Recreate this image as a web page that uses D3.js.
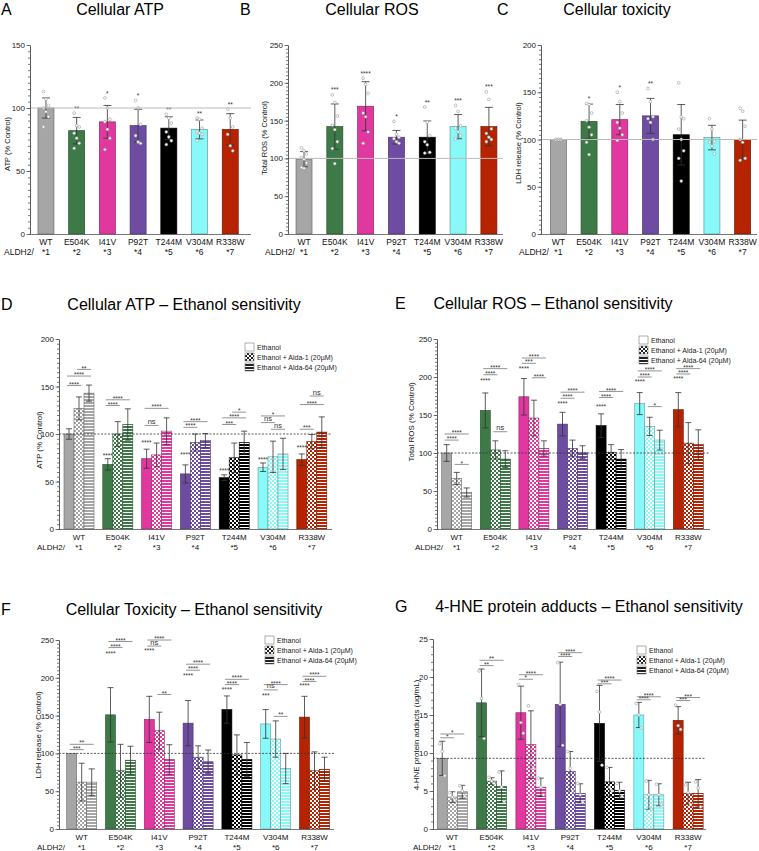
<!DOCTYPE html>
<html>
<head>
<meta charset="utf-8">
<script src="https://cdn.jsdelivr.net/npm/d3@7"></script>
<style>
  body { margin: 0; background: #fff; }
  svg { display: block; font-family: "Liberation Sans", Arial, sans-serif; }
</style>
</head>
<body>
<div id="fig"></div>
<script>
// categories
const variants = ["WT","E504K","I41V","P92T","T244M","V304M","R338W"];
const alleles  = ["*1","*2","*3","*4","*5","*6","*7"];
const colors   = ["#a6a6a6","#3d7a48","#e0389f","#6e4ca2","#000000","#88f8f8","#b62300"];
const legendLabels = ["Ethanol","Ethanol + Alda-1 (20\u00b5M)","Ethanol + Alda-64 (20\u00b5M)"];

// A - cellular ATP
const atpMean  = [100,82,89,86,84,83,83];
const atpSD    = [8,10.5,13,13,9,7.5,12.5];
const atpStars = ["","**","*","*","**","**","**"];
const atpPts   = [[113,107,102,100,97,93,85],[96,86,85,80,76,72,68],[108,100,91,89,83,76,67],
                  [106,100,87,78,73,72],[95,92,88,81,77,74,71],[92,91,84,81,80,79,74],[99,92,85,79,70,66]];
// B - cellular ROS
const rosMean  = [99,142,169,128,128,142,142];
const rosSD    = [10,30,32.5,9,21.5,16,25.5];
const rosStars = ["","***","****","*","**","***","***"];
const rosPts   = [[114,110,106,101,99,94,88,87],[184,174,156,144,138,122,113,93],[206,198,186,160,155,135,120],
                  [149,132,128,126,122,120],[168,148,130,122,118,108,107],[170,162,143,140,135,130,126],[188,178,139,133,128,125,122]];
// C - cellular toxicity
const ldhMean  = [100,119,121,125,105,102,100];
const ldhSD    = [0,18.5,16,18.5,32,13,20.5];
const ldhStars = ["","*","*","**","","",""];
const ldhPts   = [[100,100,100,100,100,100],[138,137,128,120,113,105,97,84],[150,140,128,118,112,105,99],
                  [154,140,124,122,118,100],[160,124,122,111,100,88,80,56],[122,111,98,97,93,85],[133,130,114,100,97,80,78]];

// D - ATP, ethanol sensitivity
const dEth   = [100,68,74,58,54,65,73];
const dEthSD = [5.5,6,10,9.5,3,4.5,6];
const dA1    = [127,100,78,91,75,76,92];
const dA1SD  = [12,13,12.5,9,15.5,16.5,7.5];
const dA64   = [143,110,103,93,91,79,102];
const dA64SD = [8.5,16.5,14,7.5,12,16.5,16];
const dVsWT  = ["","****","****","****","****","****","****"];
const dVsWTy = [0,79,92,80,63,74,87];
const dComp  = [[0,0,1,151,"****"],[0,0,2,161,"****"],[0,1,2,168,"**"],
                [1,0,1,130,"****"],[1,0,2,136,"****"],
                [2,0,1,109,"ns"],[2,0,2,127,"****"],
                [3,0,1,107,"****"],[3,0,2,113,"****"],
                [4,0,1,110,"***"],[4,0,2,117,"****"],[4,1,2,123,"*"],
                [5,0,1,112,"ns"],[5,0,2,119,"*"],[5,1,2,105,"ns"],
                [6,0,1,105,"***"],[6,0,2,131,"****"],[6,1,2,140,"ns"]];

// E - ROS, ethanol sensitivity
const eEth   = [100,156,174,138,136,165,157];
const eEthSD = [11,23,24,15.5,15.5,14.5,22.5];
const eA1    = [66.5,104,146,106,101,135,113];
const eA1SD  = [8,12,23.5,11,10,12,27];
const eA64   = [48,92,106,101,92,117,111];
const eA64SD = [6,11,10,8.5,12.5,13,19.5];
const eVsWT  = ["","****","****","****","****","****","****"];
const eVsWTy = [0,197,212,166,162,195,200];
const eComp  = [[0,0,1,117,"****"],[0,0,2,125,"****"],[0,1,2,85,"*"],
                [1,0,1,203,"****"],[1,0,2,211,"****"],[1,1,2,128,"ns"],
                [2,0,1,218,"***"],[2,0,2,225,"****"],[2,1,2,199,"****"],
                [3,0,1,172,"****"],[3,0,2,180,"****"],
                [4,0,1,173,"****"],[4,0,2,181,"****"],
                [5,0,1,200,"****"],[5,0,2,208,"****"],[5,1,2,161,"*"],
                [6,0,1,204,"****"],[6,0,2,211,"****"]];

// F - LDH, ethanol sensitivity
const fEth   = [100,151,145,140,158,139,148];
const fEthSD = [0,36,30.5,30,18,19,27.5];
const fA1    = [62,77,130,95,98,119,77];
const fA1SD  = [25,35,24.5,15,26.5,24,25];
const fA64   = [62,91,92,89,92,80,79];
const fA64SD = [17.5,18.5,19.5,15.5,22.5,20,16];
const fVsWT  = ["","****","****","****","****","***","****"];
const fVsWTy = [0,233,238,204,186,178,191];
const fComp  = [[0,0,1,105,"***"],[0,0,2,112,"**"],
                [1,0,1,240,"****"],[1,0,2,248,"****"],
                [2,0,1,242,"ns"],[2,0,2,250,"****"],[2,1,2,178,"**"],
                [3,0,1,210,"****"],[3,0,2,218,"****"],
                [4,0,1,191,"****"],[4,0,2,198,"****"],
                [5,0,1,184,"ns"],[5,0,2,191,"****"],[5,1,2,149,"**"],
                [6,0,1,195,"****"],[6,0,2,202,"****"]];

// G - 4-HNE adducts
const gEth   = [9.3,16.6,15.3,16.4,13.9,15.0,14.3];
const gEthSD = [2.25,4.45,3.5,5.55,5,1.65,1.8];
const gA1    = [4.2,6.3,11.1,7.6,6.2,4.5,4.7];
const gA1SD  = [0.7,0.45,4.45,2.6,1.9,1.9,1.45];
const gA64   = [4.9,5.6,5.5,4.7,5.1,4.5,4.7];
const gA64SD = [0.85,2.05,1.2,1.25,1.05,1.45,1.8];
const gEthPts = [[11.2,10.2,7.0],[20.8,17.2,11.9],[19.0,14.0,12.6],[21.9,16.4,11.0],[18.1,15.4,8.4],[16.5,15.0,13.3],[16.3,13.6,13.1]];
const gA1Pts  = [[4.8,4.2,3.8],[6.8,6.3,6.0],[16.2,9.0,8.0],[10.2,8.0,5.0],[8.1,5.5,5.0],[6.3,4.5,2.6],[5.8,4.8,3.2]];
const gA64Pts = [[5.7,5.0,4.3],[7.5,5.5,3.6],[6.7,5.5,4.5],[6.0,4.5,3.5],[6.0,5.0,4.3],[5.9,4.5,3.2],[6.2,5.4,2.9]];
const gComp  = [[0,0,1,12.0,"*"],[0,0,2,12.5,"*"],
                [1,0,1,21.5,"**"],[1,0,2,22.2,"**"],
                [2,0,1,19.7,"*"],[2,0,2,20.3,"****"],
                [3,0,1,22.7,"****"],[3,0,2,23.2,"****"],
                [4,0,1,19.1,"***"],[4,0,2,19.6,"****"],
                [5,0,1,17.0,"****"],[5,0,2,17.4,"****"],
                [6,0,1,16.9,"***"],[6,0,2,17.3,"***"]];

const FONT = '"Liberation Sans", Arial, sans-serif';
const svg = d3.select("#fig").append("svg").attr("width",759).attr("height",851);
const defs = svg.append("defs");

function patterns(id, c) {
  let ck = defs.append("pattern").attr("id","ck"+id).attr("patternUnits","userSpaceOnUse")
    .attr("width",4).attr("height",4);
  ck.append("rect").attr("width",4).attr("height",4).attr("fill","#fff");
  ck.append("rect").attr("width",2).attr("height",2).attr("fill",c);
  ck.append("rect").attr("x",2).attr("y",2).attr("width",2).attr("height",2).attr("fill",c);
  let st = defs.append("pattern").attr("id","st"+id).attr("patternUnits","userSpaceOnUse")
    .attr("width",4).attr("height",3);
  st.append("rect").attr("width",4).attr("height",3).attr("fill","#fff");
  st.append("rect").attr("width",4).attr("height",2).attr("fill",c);
}
colors.forEach((c,i) => patterns(i,c));
patterns("L","#222");

function frame(o) {
  let g = svg.append("g");
  let y = d3.scaleLinear().domain([0,o.yMax]).range([o.yBot,o.yTop]);
  let x = d3.scalePoint().domain(variants).range(o.band).padding(0.5);
  g.append("text").attr("x",o.letterX).attr("y",o.titleY).attr("font-size",16).text(o.letter);
  g.append("text").attr("x",o.titleX).attr("y",o.titleY).attr("font-size",16)
    .attr("text-anchor","middle").text(o.title);
  g.append("text").attr("transform",`translate(${o.ylabelX},${o.ylabelY}) rotate(-90)`)
    .attr("text-anchor","middle").attr("dy","0.35em").attr("font-size",o.labelSize || 8)
    .attr("fill","#111").text(o.ylabel);
  let names = g.append("g").attr("font-size",o.catSize).attr("fill","#111").attr("text-anchor","middle");
  names.selectAll("text.n").data(variants).enter().append("text").attr("class","n")
    .attr("x",d => x(d)).attr("y",o.nameY).text(d => d);
  names.selectAll("text.a").data(alleles).enter().append("text").attr("class","a")
    .attr("x",(d,i) => x(variants[i])).attr("y",o.alleleY).text(d => d);
  g.append("text").attr("x",o.aldhX).attr("y",o.alleleY).attr("font-size",o.catSize)
    .attr("fill","#111").text("ALDH2/");
  return {g:g, x:x, y:y, o:o};
}

function axes(p) {
  let o = p.o, g = p.g;
  g.append("line").attr("x1",o.axisX).attr("x2",o.axisEnd).attr("y1",p.y(o.ref)).attr("y2",p.y(o.ref))
    .attr("stroke",o.refColor).attr("stroke-width",o.refWidth).attr("stroke-dasharray",o.refDash);
  let minor = g.append("g").attr("transform",`translate(${o.axisX},0)`)
    .call(d3.axisLeft(p.y).tickValues(d3.range(0,o.yMax+1e-6,o.minor)).tickSize(2).tickSizeOuter(0).tickFormat(""));
  let major = g.append("g").attr("transform",`translate(${o.axisX},0)`)
    .call(d3.axisLeft(p.y).tickValues(o.ticks).tickSize(3.5).tickSizeOuter(0).tickPadding(1.5));
  [minor,major].forEach(a => {
    a.attr("font-family",FONT).attr("font-size",o.tickSize);
    a.selectAll("line,path").attr("stroke","#555").attr("stroke-width",0.8);
    a.selectAll("text").attr("fill","#222");
  });
  g.append("line").attr("x1",o.axisX).attr("x2",o.axisEnd).attr("y1",o.yBot+0.5).attr("y2",o.yBot+0.5)
    .attr("stroke","#555").attr("stroke-width",0.8);
}

function errbar(g, cx, y, m, sd, cap) {
  if (!sd) return;
  g.append("line").attr("x1",cx).attr("x2",cx).attr("y1",y(m-sd)).attr("y2",y(m+sd))
    .attr("stroke","#333").attr("stroke-width",0.8);
  [m-sd, m+sd].forEach(v => g.append("line").attr("x1",cx-cap/2).attr("x2",cx+cap/2)
    .attr("y1",y(v)).attr("y2",y(v)).attr("stroke","#333").attr("stroke-width",0.8));
}

function stars(g, cx, cy, label) {
  // cy is where the asterisks should sit
  let ns = label === "ns";
  g.append("text").attr("x",cx).attr("y",ns ? cy + 1 : cy + 3.6).attr("text-anchor","middle")
    .attr("font-size",ns ? 7.5 : 6.5).attr("fill","#333").text(label);
}

function dots(g, cx, y, ps) {
  g.selectAll(null).data(ps).enter().append("circle")
    .attr("cx",(d,k) => cx + ((k % 3) - 1) * 2.5).attr("cy",d => y(d)).attr("r",1.4)
    .attr("fill","#fff").attr("stroke","#999").attr("stroke-width",0.6);
}

function simplePanel(o, mean, sd, lab, pts) {
  let p = frame(o), g = p.g, x = p.x, y = p.y, bw = 16;
  g.selectAll("rect.bar").data(mean).enter().append("rect").attr("class","bar")
    .attr("x",(d,i) => x(variants[i]) - bw/2).attr("y",d => y(d))
    .attr("width",bw).attr("height",d => y(0) - y(d))
    .attr("fill",(d,i) => colors[i])
    .attr("stroke",(d,i) => d3.color(colors[i]).darker(1.2)).attr("stroke-width",0.7);
  mean.forEach((m,i) => errbar(g, x(variants[i]), y, m, sd[i], 8));
  pts.forEach((ps,i) => {
    dots(g, x(variants[i]), y, ps);
    if (lab[i]) stars(g, x(variants[i]), y(Math.max(d3.max(ps), mean[i] + sd[i])) - 6, lab[i]);
  });
  axes(p);
}

function groupPanel(o, series, vs, vsY, comps, legendPos) {
  let p = frame(o), g = p.g, x = p.x, y = p.y, bw = 10;
  let fills = [i => colors[i], i => `url(#ck${i})`, i => `url(#st${i})`];
  let cx = (i,k) => x(variants[i]) + (k - 1) * bw;
  series.forEach((s,k) => {
    g.selectAll(null).data(s.mean).enter().append("rect")
      .attr("x",(d,i) => cx(i,k) - bw/2).attr("y",d => y(d))
      .attr("width",bw).attr("height",d => y(0) - y(d))
      .attr("fill",(d,i) => fills[k](i))
      .attr("stroke",(d,i) => d3.color(colors[i]).darker(1.2)).attr("stroke-width",0.6);
  });
  series.forEach((s,k) => s.mean.forEach((m,i) => {
    errbar(g, cx(i,k), y, m, s.sd[i], 6);
    if (s.pts) dots(g, cx(i,k), y, s.pts[i]);
  }));
  axes(p);
  if (vs) vs.forEach((l,i) => { if (l) stars(g, cx(i,0), y(vsY[i]), l); });
  comps.forEach(c => {
    let x1 = cx(c[0],c[1]) - 2, x2 = cx(c[0],c[2]) + 2, yy = y(c[3]);
    g.append("line").attr("x1",x1).attr("x2",x2).attr("y1",yy).attr("y2",yy)
      .attr("stroke","#666").attr("stroke-width",0.7);
    stars(g, (x1 + x2) / 2, yy - 2.5, c[4]);
  });
  let lg = g.append("g").attr("transform",`translate(${legendPos[0]},${legendPos[1]})`);
  ["#fff","url(#ckL)","url(#stL)"].forEach((f,k) => {
    lg.append("rect").attr("x",0).attr("y",k*10).attr("width",9).attr("height",8)
      .attr("fill",f).attr("stroke","#777").attr("stroke-width",0.6);
    lg.append("text").attr("x",12).attr("y",k*10+7).attr("font-size",7).attr("fill","#222")
      .text(legendLabels[k]);
  });
}

const topCfg = {yTop:45, yBot:234, minor:5, ref:100, refColor:"#bbb", refWidth:1, refDash:null,
             titleY:15, nameY:245, alleleY:255, catSize:8.5, tickSize:8, labelSize:7.5};
simplePanel(Object.assign({}, topCfg, {axisX:30, band:[30.6,245.6], axisEnd:251, yMax:150, ticks:[0,50,100,150],
  letter:"A", letterX:1, title:"Cellular ATP", titleX:120, ylabel:"ATP  (% Control)", ylabelX:7, ylabelY:144, aldhX:4}),
  atpMean, atpSD, atpStars, atpPts);
simplePanel(Object.assign({}, topCfg, {axisX:288, band:[288.6,504.3], axisEnd:503, yMax:250, ticks:[0,50,100,150,200,250],
  letter:"B", letterX:240, title:"Cellular ROS", titleX:372, ylabel:"Total ROS (% Control)", ylabelX:264, ylabelY:138, aldhX:265}),
  rosMean, rosSD, rosStars, rosPts);
simplePanel(Object.assign({}, topCfg, {axisX:541, band:[543,758], axisEnd:757, yMax:200, ticks:[0,50,100,150,200],
  letter:"C", letterX:497, title:"Cellular toxicity", titleX:617, ylabel:"LDH release (% Control)", ylabelX:518, ylabelY:143, aldhX:519}),
  ldhMean, ldhSD, ldhStars, ldhPts);

const botCfg = {minor:5, ref:100, refColor:"#333", refWidth:0.8, refDash:"2,1.5", catSize:8, tickSize:8, labelSize:8};
groupPanel(Object.assign({}, botCfg, {axisX:59, band:[59.6,331.2], axisEnd:332, yTop:339, yBot:529, yMax:200,
  ticks:[0,50,100,150,200], letter:"D", letterX:1, titleY:310, title:"Cellular ATP \u2013 Ethanol sensitivity", titleX:184,
  ylabel:"ATP  (% Control)", ylabelX:39, ylabelY:440, nameY:540, alleleY:550, aldhX:37}),
  [{mean:dEth, sd:dEthSD},{mean:dA1, sd:dA1SD},{mean:dA64, sd:dA64SD}], dVsWT, dVsWTy, dComp, [245,343]);
groupPanel(Object.assign({}, botCfg, {axisX:437, band:[437.4,707.6], axisEnd:710, yTop:339, yBot:529, yMax:250,
  ticks:[0,50,100,150,200,250], letter:"E", letterX:395, titleY:309, title:"Cellular ROS \u2013 Ethanol sensitivity", titleX:553,
  ylabel:"Total ROS (% Control)", ylabelX:411, ylabelY:422, nameY:540, alleleY:550, aldhX:415}),
  [{mean:eEth, sd:eEthSD},{mean:eA1, sd:eA1SD},{mean:eA64, sd:eA64SD}], eVsWT, eVsWTy, eComp, [639,336]);
groupPanel(Object.assign({}, botCfg, {axisX:59, band:[62.3,333.9], axisEnd:334, yTop:640, yBot:829, yMax:250,
  ticks:[0,50,100,150,200,250], letter:"F", letterX:1, titleY:615, title:"Cellular Toxicity \u2013 Ethanol sensitivity", titleX:194,
  ylabel:"LDH release (% Control)", ylabelX:38, ylabelY:735, nameY:840, alleleY:850, aldhX:37}),
  [{mean:fEth, sd:fEthSD},{mean:fA1, sd:fA1SD},{mean:fA64, sd:fA64SD}], fVsWT, fVsWTy, fComp, [265,636]);
groupPanel(Object.assign({}, botCfg, {axisX:433, band:[432.6,707.8], axisEnd:706, yTop:639, yBot:829, yMax:25, minor:1, ref:9.3,
  ticks:[0,5,10,15,20,25], letter:"G", letterX:395, titleY:612, title:"4-HNE protein adducts \u2013 Ethanol sensitivity", titleX:589,
  ylabel:"4-HNE protein adducts (ug/mL)", ylabelX:416, ylabelY:735, nameY:840, alleleY:850, aldhX:413}),
  [{mean:gEth, sd:gEthSD, pts:gEthPts},{mean:gA1, sd:gA1SD, pts:gA1Pts},{mean:gA64, sd:gA64SD, pts:gA64Pts}],
  null, null, gComp, [637,646]);
</script>
</body>
</html>
